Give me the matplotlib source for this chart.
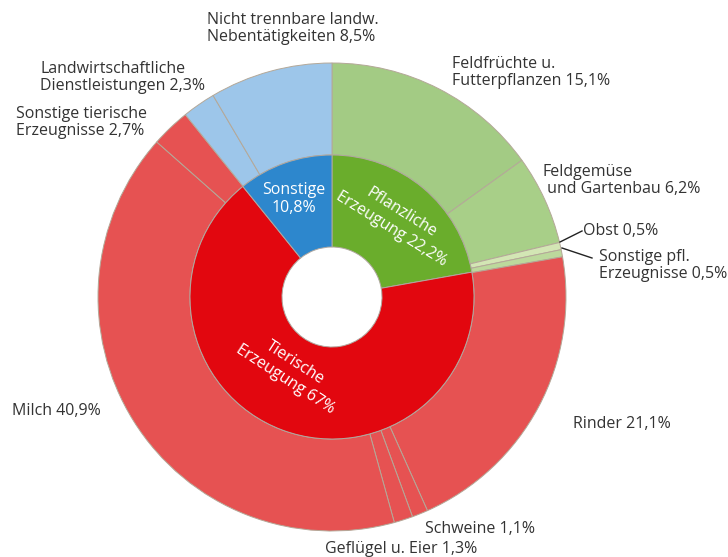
import matplotlib
matplotlib.use("Agg")
import matplotlib.pyplot as plt

# ---- data ----
inner_labels = ["Pflanzliche\nErzeugung 22,2%", "Tierische\nErzeugung 67%", "Sonstige\n10,8%"]
inner_values = [22.2, 67.0, 10.8]
inner_colors = ["#6aad2c", "#e2070f", "#2d87cd"]

outer_labels = ["Feldfrüchte u.\nFutterpflanzen 15,1%", "Feldgemüse\n und Gartenbau 6,2%",
                "Obst 0,5%", "Sonstige pfl.\nErzeugnisse 0,5%",
                "Rinder 21,1%", "Schweine 1,1%", "Geflügel u. Eier 1,3%", "Milch 40,9%",
                "Sonstige tierische\nErzeugnisse 2,7%",
                "Landwirtschaftliche\nDienstleistungen 2,3%", "Nicht trennbare landw.\nNebentätigkeiten 8,5%"]
outer_values = [15.1, 6.2, 0.5, 0.5, 21.1, 1.1, 1.3, 40.9, 2.7, 2.3, 8.5]
outer_colors = ["#a3cb84", "#a8cf88", "#d3e6b4", "#bcd99c",
                "#e65252", "#e65252", "#e65252", "#e65252", "#e65252",
                "#9dc6ea", "#9dc6ea"]

W, H = 728, 557
fig = plt.figure(figsize=(W / 100, H / 100), dpi=100)
ax = fig.add_axes([0, 0, 1, 1])

cx, cy = 332, H - 297
r_out, r_mid, r_hole = 234, 142, 50

ax.pie(outer_values, radius=r_out, center=(cx, cy), startangle=90, counterclock=False,
       colors=outer_colors,
       wedgeprops=dict(width=r_out - r_mid, edgecolor="#b4a898", linewidth=0.7))
ax.pie(inner_values, radius=r_mid, center=(cx, cy), startangle=90, counterclock=False,
       colors=inner_colors,
       wedgeprops=dict(width=r_mid - r_hole, edgecolor="#b0a8a0", linewidth=0.7))

ax.set_xlim(0, W)
ax.set_ylim(0, H)
ax.set_aspect("equal")
ax.axis("off")

FONT = "Open Sans"
tc = "#333333"
fs = 11.5

def txt(x, y, s, **kw):
    kw.setdefault("color", tc)
    kw.setdefault("fontsize", fs)
    kw.setdefault("family", FONT)
    ax.text(x, H - y, s, **kw)

# outer labels (top-left anchored, pixel coords)
pos = {
    0: (452, 56), 1: (543, 164), 2: (583, 223), 3: (599, 249),
    4: (573, 416), 5: (425, 521), 6: (325, 541), 7: (12, 403),
    8: (16, 106), 9: (40, 61), 10: (207, 12),
}
for i, lab in enumerate(outer_labels):
    x, y = pos[i]
    txt(x, y, lab, ha="left", va="top", linespacing=1.08)

# leader lines
ax.plot([560, 582], [H - 242, H - 231], color="#222222", lw=1.0)
ax.plot([562, 592], [H - 248, H - 258], color="#222222", lw=1.0)

# inner labels
txt(294, 199, inner_labels[2], ha="center", va="center", color="white", fontsize=11.5, linespacing=1.25)
txt(396, 221, inner_labels[0], ha="center", va="center", color="white", fontsize=11.5,
    rotation=-32, rotation_mode="anchor", linespacing=1.25)
txt(290, 371, inner_labels[1], ha="center", va="center", color="white", fontsize=11.5,
    rotation=-33, rotation_mode="anchor", linespacing=1.25)

fig.savefig("out.png", dpi=100)
